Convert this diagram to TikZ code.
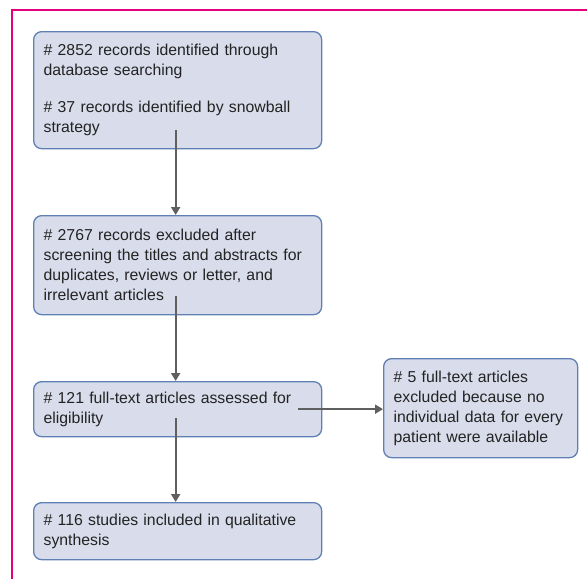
\documentclass[tikz,border=0pt]{standalone}
\usepackage{fontspec}
\setmainfont{Liberation Sans}
\usetikzlibrary{arrows.meta}
\definecolor{boxfill}{RGB}{217,221,235}
\definecolor{boxline}{RGB}{95,128,180}
\definecolor{arrowgray}{RGB}{95,95,95}
\definecolor{framepink}{RGB}{228,0,124}
\definecolor{boxtext}{RGB}{35,35,35}
\tikzset{
        flowbox/.style={draw=boxline, fill=boxfill, rounded corners=8pt, line width=1.3pt, anchor=north west, align=left, text width=268pt, inner xsep=10pt, inner ysep=0pt, font=\fontsize{15.8}{20}\selectfont, text=boxtext},
        flowarrow/.style={draw=arrowgray, line width=2pt, -{Triangle[length=8pt,width=9pt]}}
}
\begin{document}
\begin{tikzpicture}[x=1pt, y=-1pt]
        \useasboundingbox (0,0) rectangle (587,579);
        \draw[framepink, line width=2.6pt] (12,579) -- (12,10) -- (587,10);

        \node[flowbox, minimum height=117pt] (records) at (33,31) {\# 2852 records identified through\\ database searching\\[17pt] \# 37 records identified by snowball\\ strategy};
        \node[flowbox, minimum height=99pt] (screened) at (33,215) {\# 2767 records excluded after\\ screening the titles and abstracts for\\ duplicates, reviews or letter, and\\ irrelevant articles};
        \node[flowbox, minimum height=55pt] (fulltext) at (33,381) {\# 121 full-text articles assessed for\\ eligibility};
        \node[flowbox, minimum height=99pt, text width=174pt] (excluded) at (383,358) {\# 5 full-text articles\\ excluded because no\\ individual data for every\\ patient were available\\[-6pt]};
        \node[flowbox, minimum height=57pt] (included) at (33,502) {\# 116 studies included in qualitative\\ synthesis};

        \draw[flowarrow] ([xshift=-2pt, yshift=19pt]records.south) -- ([xshift=-2pt]screened.north);
        \draw[flowarrow] ([xshift=-2pt, yshift=19pt]screened.south) -- ([xshift=-2pt]fulltext.north);
        \draw[flowarrow] ([xshift=-24pt]fulltext.east) -- (fulltext.east -| excluded.west);
        \draw[flowarrow] ([xshift=-2pt, yshift=19pt]fulltext.south) -- ([xshift=-2pt]included.north);
\end{tikzpicture}
\end{document}
